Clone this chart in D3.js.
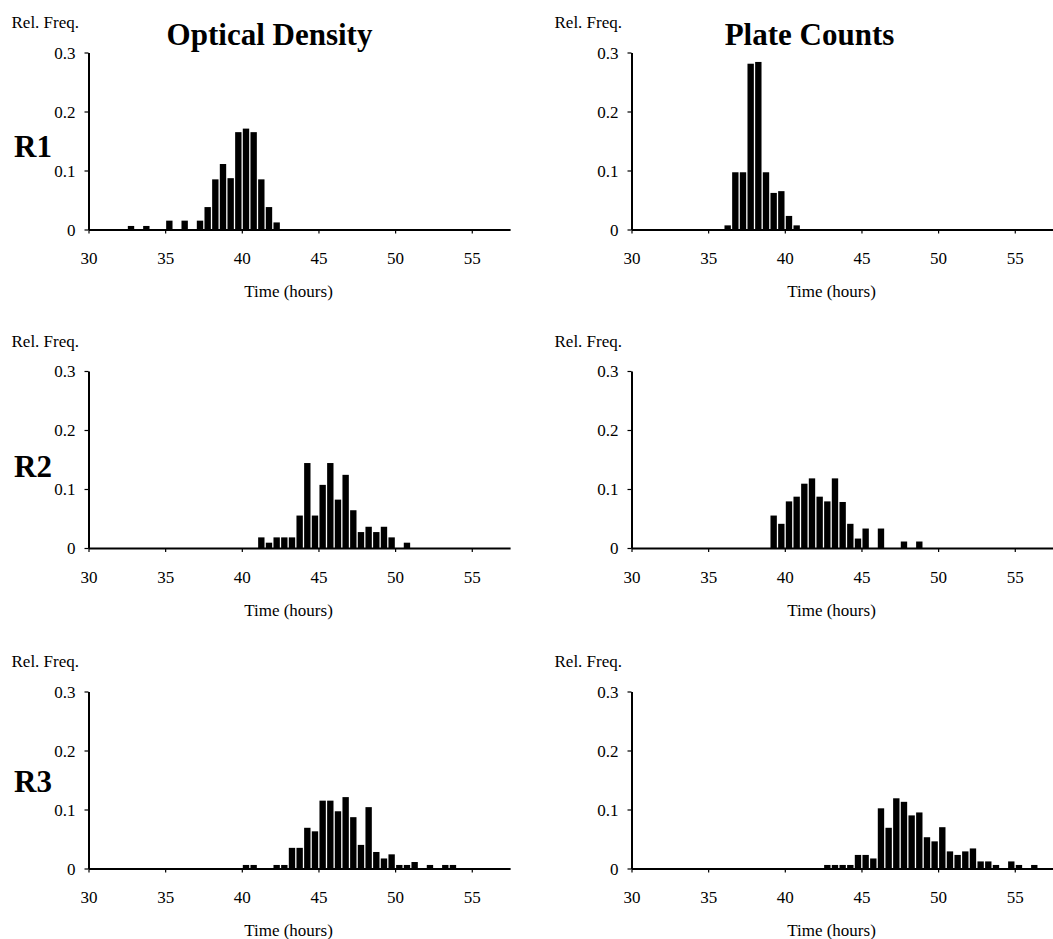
<!DOCTYPE html>
<html>
<head>
<meta charset="utf-8">
<script src="https://cdn.jsdelivr.net/npm/d3@7"></script>
<style>
  html, body { margin: 0; padding: 0; background: #fff; }
  svg { display: block; font-family: "Liberation Serif", "Times New Roman", serif; }
</style>
</head>
<body>
<script>
// ---- Data (bin start time in hours, bin width 0.5 h; relative frequency) ----
const binWidth = 0.5;
const xTicks = [30, 35, 40, 45, 50, 55];
const yTicks = [0, 0.1, 0.2, 0.3];
const columnTitles = ["Optical Density", "Plate Counts"];
const rowLabels = ["R1", "R2", "R3"];

const odR1Time = [32.5, 33.5, 35, 36, 37, 37.5, 38, 38.5, 39, 39.5, 40, 40.5, 41, 41.5, 42];
const odR1Freq = [0.006, 0.006, 0.015, 0.015, 0.015, 0.038, 0.085, 0.111, 0.087, 0.165, 0.171, 0.165, 0.085, 0.038, 0.012];

const pcR1Time = [36, 36.5, 37, 37.5, 38, 38.5, 39, 39.5, 40, 40.5];
const pcR1Freq = [0.007, 0.097, 0.097, 0.281, 0.284, 0.097, 0.062, 0.065, 0.023, 0.007];

const odR2Time = [41, 41.5, 42, 42.5, 43, 43.5, 44, 44.5, 45, 45.5, 46, 46.5, 47, 47.5, 48, 48.5, 49, 49.5, 50.5];
const odR2Freq = [0.018, 0.009, 0.018, 0.018, 0.018, 0.055, 0.144, 0.055, 0.107, 0.144, 0.082, 0.124, 0.064, 0.027, 0.036, 0.027, 0.036, 0.018, 0.009];

const pcR2Time = [39, 39.5, 40, 40.5, 41, 41.5, 42, 42.5, 43, 43.5, 44, 44.5, 45, 46, 47.5, 48.5];
const pcR2Freq = [0.055, 0.041, 0.079, 0.087, 0.109, 0.118, 0.087, 0.079, 0.118, 0.078, 0.041, 0.016, 0.033, 0.033, 0.011, 0.011];

const odR3Time = [40, 40.5, 42, 42.5, 43, 43.5, 44, 44.5, 45, 45.5, 46, 46.5, 47, 47.5, 48, 48.5, 49, 49.5, 50, 50.5, 51, 52, 53, 53.5];
const odR3Freq = [0.006, 0.006, 0.006, 0.006, 0.035, 0.035, 0.069, 0.063, 0.115, 0.115, 0.097, 0.121, 0.087, 0.040, 0.104, 0.028, 0.017, 0.024, 0.006, 0.006, 0.011, 0.006, 0.006, 0.006];

const pcR3Time = [42.5, 43, 43.5, 44, 44.5, 45, 45.5, 46, 46.5, 47, 47.5, 48, 48.5, 49, 49.5, 50, 50.5, 51, 51.5, 52, 52.5, 53, 53.5, 54.5, 55, 56];
const pcR3Freq = [0.006, 0.006, 0.006, 0.006, 0.023, 0.023, 0.017, 0.102, 0.069, 0.119, 0.113, 0.090, 0.095, 0.053, 0.046, 0.070, 0.029, 0.023, 0.029, 0.034, 0.012, 0.012, 0.006, 0.012, 0.006, 0.006];

const panels = [
  { row: 0, col: 0, time: odR1Time, freq: odR1Freq },
  { row: 0, col: 1, time: pcR1Time, freq: pcR1Freq },
  { row: 1, col: 0, time: odR2Time, freq: odR2Freq },
  { row: 1, col: 1, time: pcR2Time, freq: pcR2Freq },
  { row: 2, col: 0, time: odR3Time, freq: odR3Freq },
  { row: 2, col: 1, time: pcR3Time, freq: pcR3Freq }
];

// ---- Layout ----
const W = 1053, H = 939;
const colAxisX = [88.5, 631.5];
const rowBase = [229.5, 548, 868.5];
const rowLabelOffset = [83, 82, 87];
const plotH = 177;
const plotW = 421.6;
const fontSmall = 17;

const svg = d3.select("body").append("svg").attr("width", W).attr("height", H);

// Column titles
columnTitles.forEach((t, c) => {
  svg.append("text")
    .attr("x", colAxisX[c] + (c === 0 ? 181 : 178))
    .attr("y", 45)
    .attr("text-anchor", "middle")
    .attr("font-weight", "bold")
    .attr("font-size", 31)
    .text(t);
});

// Row labels
rowLabels.forEach((t, r) => {
  svg.append("text")
    .attr("x", 14)
    .attr("y", rowBase[r] - rowLabelOffset[r])
    .attr("dy", "0.35em")
    .attr("font-weight", "bold")
    .attr("font-size", 31)
    .text(t);
});

panels.forEach(p => {
  const ax = colAxisX[p.col];
  const base = rowBase[p.row];
  const x = d3.scaleLinear().domain([30, 57.5]).range([ax, ax + plotW]);
  const y = d3.scaleLinear().domain([0, 0.3]).range([base, base - plotH]);
  const g = svg.append("g");

  const data = p.time.map((t, i) => ({ t, v: p.freq[i] }));

  g.selectAll("rect.bar").data(data).join("rect")
    .attr("class", "bar")
    .attr("x", d => x(d.t) + 1)
    .attr("width", d => x(d.t + binWidth) - x(d.t) - 1.3)
    .attr("y", d => y(d.v))
    .attr("height", d => base - y(d.v))
    .attr("fill", "#000");

  // X axis
  const xa = g.append("g")
    .attr("transform", `translate(0,${base})`)
    .call(d3.axisBottom(x).tickValues(xTicks).tickSize(4).tickSizeOuter(0).tickFormat(d3.format("d")));
  xa.select(".domain").attr("stroke", "#000").attr("stroke-width", 2);
  xa.selectAll(".tick line").attr("stroke", "#000").attr("stroke-width", 1.2);
  xa.selectAll(".tick text")
    .attr("y", 29).attr("dy", "0.35em")
    .attr("font-family", "Liberation Serif, Times New Roman, serif")
    .attr("font-size", fontSmall).attr("fill", "#000");

  // Y axis
  const ya = g.append("g")
    .attr("transform", `translate(${ax},0)`)
    .call(d3.axisLeft(y).tickValues(yTicks).tickSize(4).tickSizeOuter(0)
      .tickFormat(d => d === 0 ? "0" : d3.format(".1f")(d)));
  ya.select(".domain").attr("stroke", "#000").attr("stroke-width", 2);
  ya.selectAll(".tick line").attr("stroke", "#000").attr("stroke-width", 1.2);
  ya.selectAll(".tick text")
    .attr("x", -13).attr("dy", "0.35em")
    .attr("font-family", "Liberation Serif, Times New Roman, serif")
    .attr("font-size", fontSmall).attr("fill", "#000");

  // Axis labels
  g.append("text")
    .attr("x", ax + 200)
    .attr("y", base + 62)
    .attr("dy", "0.35em")
    .attr("text-anchor", "middle")
    .attr("font-size", fontSmall)
    .text("Time (hours)");

  g.append("text")
    .attr("x", ax - 77)
    .attr("y", base - plotH - 30)
    .attr("dy", "0.35em")
    .attr("font-size", fontSmall)
    .text("Rel. Freq.");
});
</script>
</body>
</html>
